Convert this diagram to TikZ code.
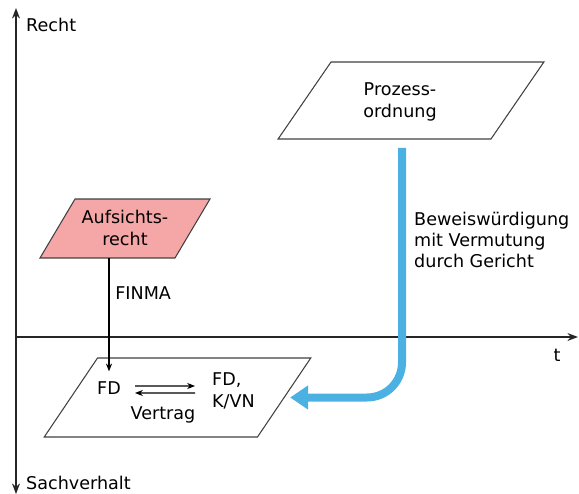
\documentclass[tikz,border=0pt]{standalone}
\usepackage{fontspec}
\setmainfont{DejaVu Sans}
\usetikzlibrary{shapes.geometric,arrows.meta}
\definecolor{aufpink}{RGB}{245,166,166}
\definecolor{bewblue}{RGB}{75,176,226}
\tikzset{
  parbox/.style={trapezium, draw=black!75, line width=0.6pt, outer sep=0pt},
  axisline/.style={line width=0.9pt, draw=black!85},
  smallarr/.style={line width=0.6pt, -{Stealth[length=4.5pt,width=3.5pt]}},
  bluearr/.style={draw=bewblue, line width=0.16cm, rounded corners=0.7cm, -{Triangle[length=0.36cm,width=0.46cm]}},
}

\begin{document}
\begin{tikzpicture}[x=0.02cm,y=-0.02cm, font=\fontsize{10}{12.2}\selectfont]
\useasboundingbox (0,0) rectangle (579,494);
%
\coordinate (ybot) at (16,494);
\coordinate (ytop) at (16,8);
\coordinate (xleft) at (16,337);
\coordinate (xright) at (578,337);
\draw [axisline, {Stealth[length=6pt,width=4.5pt]}-{Stealth[length=6pt,width=4.5pt]}] (ybot) -- (ytop);
\draw [axisline, -{Stealth[length=6pt,width=4.5pt]}] (xleft) -- (xright);
\node [anchor=west] at (20,25) (recht) {Recht};
\node [anchor=west] at (20,483) (sachverhalt) {Sachverhalt};
\node at (557,355) (t) {t};
%
\node [parbox, fill=aufpink, trapezium left angle=59.3, trapezium right angle=120.7, inner xsep=1cm, inner ysep=0.59cm] at (125,228.5) (auf) {};
\node [parbox, trapezium left angle=55.5, trapezium right angle=124.5, inner xsep=1.6cm, inner ysep=0.77cm] at (411,100.5) (proz) {};
\node [parbox, trapezium left angle=56, trapezium right angle=124, inner xsep=1.6cm, inner ysep=0.79cm] at (177.5,397.5) (sach) {};
\node [align=center] at (125,228) (auftext) {Aufsichts-\\recht};
\node [align=center] at (400,102) (proztext) {Prozess-\\ordnung};
%
\node at (109,388) (fd) {FD};
\node [anchor=west, align=left] at (206,391) (fdk) {FD,\\K/VN};
\node at (163,415) (vertrag) {Vertrag};
\node [anchor=west, align=left] at (408,240) (bew) {Beweiswürdigung\\mit Vermutung\\durch Gericht};
%
\draw [smallarr, shorten >=0.08cm] (auf.south -| fd.north) -- node [right, pos=0.3] {FINMA} (fd.north);
\draw [smallarr] ([xshift=0.16cm,yshift=0.04cm]fd.east) -- ([xshift=-0.22cm,yshift=0.1cm]fdk.west);
\draw [smallarr] ([xshift=-0.22cm,yshift=-0.04cm]fdk.west) -- ([xshift=0.16cm,yshift=-0.1cm]fd.east);
\draw [bluearr] ([xshift=-0.18cm,yshift=-0.18cm]proz.south) |- ([xshift=0.12cm]sach.east);

\end{tikzpicture}
\end{document}
